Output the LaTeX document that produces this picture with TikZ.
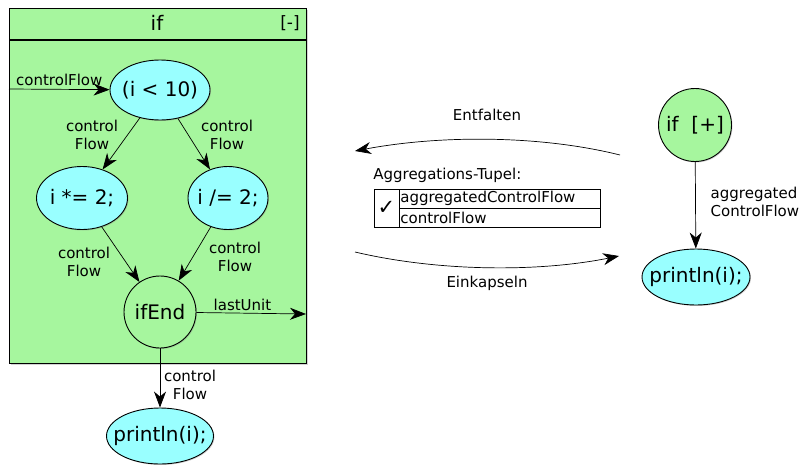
\documentclass[tikz,border=0pt]{standalone}
\usepackage{fontspec}
\setmainfont{DejaVu Sans}
\usetikzlibrary{shapes,arrows.meta,shadows}
\definecolor{unitgreen}{RGB}{166,246,158}
\definecolor{unitcyan}{RGB}{153,255,255}
\newcommand{\unitfont}{\fontsize{20}{23}\selectfont}
\newcommand{\edgefont}{\fontsize{15}{18.5}\selectfont}
\newcommand{\snug}[1]{\makebox[0pt]{#1}}
\tikzset{
	glow/.style   = {drop shadow={shadow xshift=1pt, shadow yshift=-1pt, opacity=0.35}},
	stmt/.style   = {draw, line width=0.9pt, ellipse, fill=unitcyan, inner sep=0pt, font=\unitfont, glow},
	block/.style  = {draw, line width=0.9pt, circle, fill=unitgreen, inner sep=0pt, font=\unitfont, glow},
	lbl/.style    = {font=\edgefont, align=center},
	cell/.style   = {draw, semithick, rectangle, inner sep=0pt, outer sep=0pt, anchor=north west}
}

\begin{document}
\begin{tikzpicture}[auto, line width=0.7pt, >={Stealth[length=16pt,width=12pt,inset=5pt]}, x=1pt, y=-1pt]
	\useasboundingbox (0,0) rectangle (799,466);
	% expanded if unit
	\node[draw, line width=1.2pt, fill=unitgreen, minimum width=297pt, minimum height=355pt, anchor=north west, glow] (ifBox) at (9,8) {};
	\draw[line width=1.2pt] ([yshift=-32pt]ifBox.north west) -- ([yshift=-32pt]ifBox.north east);
	\draw
	node at (157,23) [font=\unitfont] (ifTitle) {if}
	node at (290,23) [font=\fontsize{17}{20}\selectfont] (ifToggle) {[-]}
	node at (160,90) [stmt, minimum width=100pt, minimum height=60pt] (cond) {\snug{(i < 10)}}
	node at (82,198) [stmt, minimum width=91pt, minimum height=63pt] (mul) {\snug{i *= 2;}}
	node at (228,198) [stmt, minimum width=80pt, minimum height=63pt] (div) {\snug{i /= 2;}}
	node at (160,312) [block, minimum size=72pt] (ifEnd) {ifEnd}
	node at (160,436) [stmt, minimum width=107pt, minimum height=56pt] (print) {\snug{println(i);}}
	node at (92,135) [lbl] (lblA) {control\\Flow}
	node at (227,135) [lbl] (lblB) {control\\Flow}
	node at (84,262) [lbl] (lblC) {control\\Flow}
	node at (235,257) [lbl] (lblD) {control\\Flow}
	node at (190,385) [lbl] (lblE) {control\\Flow}
	;
	\coordinate (cfIn) at (9,89);
	\coordinate (luOut) at (306,314);
	\draw[->](cfIn)--node[lbl, above, pos=0.5] {controlFlow} (cond);
	\draw[->](cond)--(mul);
	\draw[->](cond)--(div);
	\draw[->](mul)--(ifEnd);
	\draw[->](div)--(ifEnd);
	\draw[->](ifEnd)--node[lbl, above, pos=0.42, inner sep=2pt] {lastUnit} (luOut);
	\draw[->](ifEnd)--(print);
	% collapsed if unit
	\draw
	node at (695,125) [block, minimum size=73pt] (ifFold) {if\ \ [+]}
	node at (696,277) [stmt, minimum width=108pt, minimum height=56pt] (printR) {\snug{println(i);}}
	node at (707,202) [lbl, align=left, anchor=west] (lblAgg) {aggregated\\ControlFlow}
	;
	\draw[->](ifFold)--(printR);
	% transformation arrows
	\coordinate (unfoldA) at (620,155);
	\coordinate (unfoldB) at (355,151);
	\coordinate (foldA) at (355,252);
	\coordinate (foldB) at (619,256);
	\draw[->](unfoldA) .. controls (540,135) and (440,135) .. (unfoldB);
	\draw[->](foldA) .. controls (440,272) and (540,272) .. (foldB);
	\node[lbl] (unfoldTxt) at (487,115) {Entfalten};
	\node[lbl] (foldTxt) at (487,283) {Einkapseln};
	% aggregation tuple
	\node[lbl, anchor=west, inner sep=0pt] (tupleTitle) at (373,175) {Aggregations-Tupel:};
	\node[cell, minimum width=25pt, minimum height=38pt, font=\fontsize{21}{23}\selectfont] (checkCell) at (374,189) {✓};
	\node[cell, minimum width=201pt, minimum height=19pt] (rowAgg) at (checkCell.north east) {};
	\node[cell, minimum width=201pt, minimum height=19pt] (rowCf) at (rowAgg.south west) {};
	\node[lbl, anchor=west, inner sep=1pt] (rowAggTxt) at (rowAgg.west) {aggregatedControlFlow};
	\node[lbl, anchor=west, inner sep=1pt] (rowCfTxt) at (rowCf.west) {controlFlow};
\end{tikzpicture}
\end{document}
